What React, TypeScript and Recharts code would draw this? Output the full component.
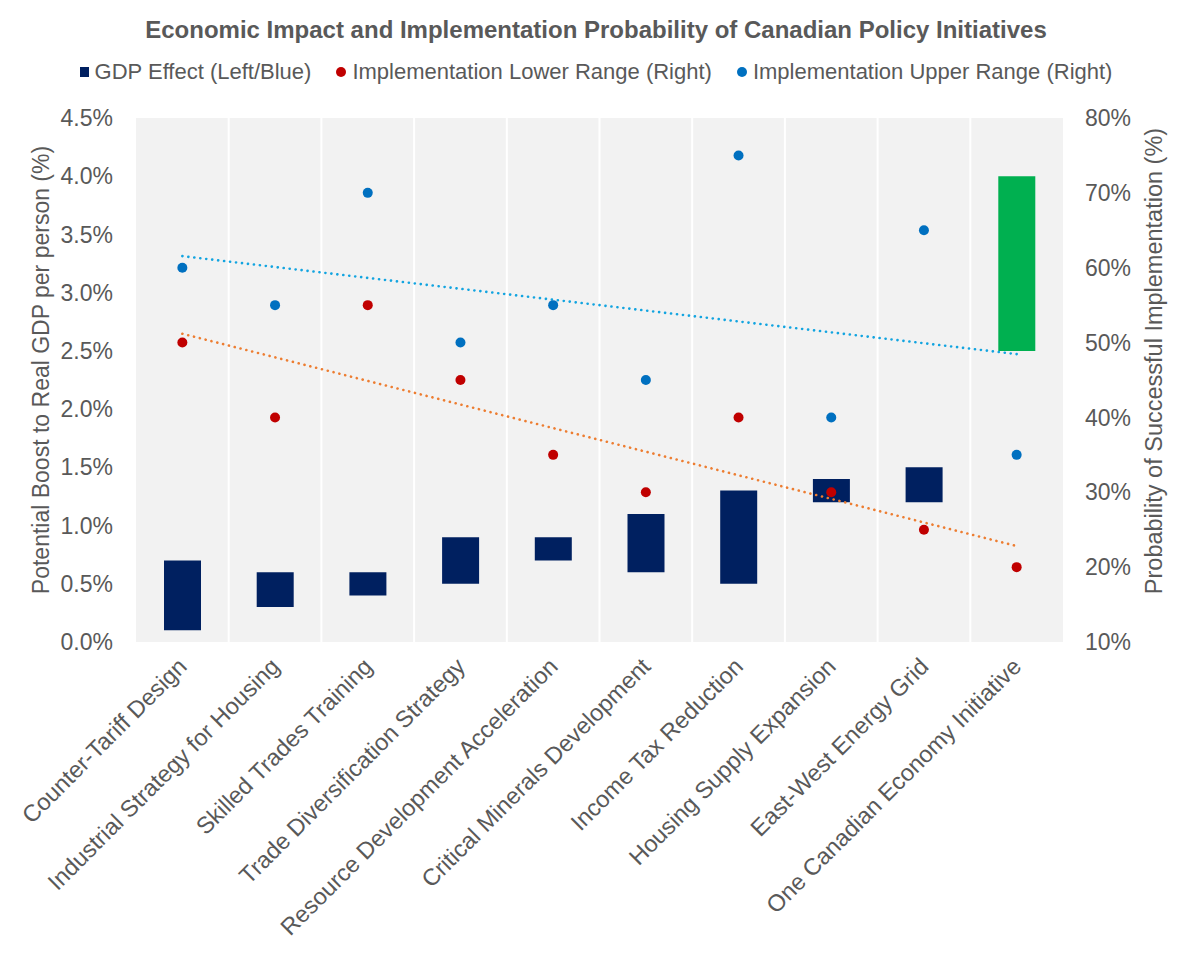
import React from 'react';
import {
  Bar,
  CartesianGrid,
  Cell,
  ComposedChart,
  Line,
  XAxis,
  YAxis,
} from 'recharts';

const categories = [
  'Counter-Tariff Design',
  'Industrial Strategy for Housing',
  'Skilled Trades Training',
  'Trade Diversification Strategy',
  'Resource Development Acceleration',
  'Critical Minerals Development',
  'Income Tax Reduction',
  'Housing Supply Expansion',
  'East-West Energy Grid',
  'One Canadian Economy Initiative',
];

// GDP effect range, left axis (% boost)
const gdpLow = [0.1, 0.3, 0.4, 0.5, 0.7, 0.6, 0.5, 1.2, 1.2, 2.5];
const gdpHigh = [0.7, 0.6, 0.6, 0.9, 0.9, 1.1, 1.3, 1.4, 1.5, 4.0];

// probability of implementation, right axis (%)
const implLower = [50, 40, 55, 45, 35, 30, 40, 30, 25, 20];
const implUpper = [60, 55, 70, 50, 55, 45, 75, 40, 65, 35];

const leftTicks = [0, 0.5, 1, 1.5, 2, 2.5, 3, 3.5, 4, 4.5];
const rightTicks = [10, 20, 30, 40, 50, 60, 70, 80];

const legendItems = [
  { label: 'GDP Effect (Left/Blue)', color: '#002060', shape: 'square' },
  { label: 'Implementation Lower Range (Right)', color: '#c00000', shape: 'circle' },
  { label: 'Implementation Upper Range (Right)', color: '#0070c0', shape: 'circle' },
];

const FONT = '"Liberation Sans", Arial, sans-serif';
const GREY = '#595959';

// least-squares trendline like Excel's linear trendline
const linearTrend = (ys: number[]) => {
  const n = ys.length;
  const mx = (n + 1) / 2;
  const my = ys.reduce((a, b) => a + b, 0) / n;
  let sxy = 0;
  let sxx = 0;
  ys.forEach((y, i) => {
    sxy += (i + 1 - mx) * (y - my);
    sxx += (i + 1 - mx) * (i + 1 - mx);
  });
  const slope = sxy / sxx;
  return ys.map((_, i) => my + slope * (i + 1 - mx));
};

const lowerTrend = linearTrend(implLower);
const upperTrend = linearTrend(implUpper);

const data = categories.map((name, i) => ({
  name,
  gdp: [gdpLow[i], gdpHigh[i]],
  lower: implLower[i],
  upper: implUpper[i],
  lowerTrend: lowerTrend[i],
  upperTrend: upperTrend[i],
}));

const XTick = (props: any) => {
  const { x, y, payload } = props;
  const ax = x + 6;
  const ay = y + 18;
  return (
    <text
      x={ax}
      y={ay}
      textAnchor="end"
      transform={`rotate(-45 ${ax} ${ay})`}
      fill={GREY}
      fontSize={23.5}
      fontFamily={FONT}
    >
      {payload.value}
    </text>
  );
};

const yTitle = (text: string, cx: number, cy: number, size: number) => () => (
  <text
    x={cx}
    y={cy}
    transform={`rotate(-90 ${cx} ${cy})`}
    textAnchor="middle"
    dominantBaseline="central"
    fill={GREY}
    fontSize={size}
    fontFamily={FONT}
  >
    {text}
  </text>
);

export default function App() {
  return (
    <div style={{ position: 'absolute', left: 0, top: 0, width: 1192, height: 964, background: '#fff' }}>
      <div
        style={{
          position: 'absolute',
          top: 16,
          left: 0,
          width: 1192,
          textAlign: 'center',
          fontFamily: FONT,
          fontWeight: 'bold',
          fontSize: 24,
          color: GREY,
        }}
      >
        Economic Impact and Implementation Probability of Canadian Policy Initiatives
      </div>
      <div
        style={{
          position: 'absolute',
          top: 59,
          left: 0,
          width: 1192,
          display: 'flex',
          justifyContent: 'center',
          alignItems: 'center',
          fontFamily: FONT,
          fontSize: 22,
          color: GREY,
          gap: 25,
        }}
      >
        {legendItems.map((item) => (
          <div key={item.label} style={{ display: 'flex', alignItems: 'center' }}>
            <span
              style={{
                display: 'inline-block',
                width: item.shape === 'square' ? 9 : 10,
                height: 10,
                borderRadius: item.shape === 'circle' ? '50%' : 0,
                background: item.color,
                marginRight: 6,
              }}
            />
            <span>{item.label}</span>
          </div>
        ))}
      </div>
      <ComposedChart
        width={1192}
        height={964}
        data={data}
        margin={{ top: 118, right: 0, bottom: 0, left: 0 }}
      >
        <CartesianGrid
          horizontal={false}
          fill="#f2f2f2"
          stroke="#ffffff"
          strokeWidth={2}
          verticalCoordinatesGenerator={({ offset }: any) =>
            categories.slice(1).map((_, i) => offset.left + ((i + 1) * offset.width) / categories.length)
          }
        />
        <XAxis
          dataKey="name"
          interval={0}
          height={322}
          tick={<XTick />}
          tickLine={false}
          axisLine={false}
        />
        <YAxis
          yAxisId="left"
          width={136}
          domain={[0, 4.5]}
          ticks={leftTicks}
          tickFormatter={(v: number) => `${v.toFixed(1)}%`}
          tick={{ fill: GREY, fontSize: 23, fontFamily: FONT }}
          tickLine={false}
          axisLine={false}
          tickMargin={17}
          label={{ content: yTitle('Potential Boost to Real GDP per person (%)', 41, 370, 23) }}
        />
        <YAxis
          yAxisId="right"
          orientation="right"
          width={129}
          domain={[10, 80]}
          ticks={rightTicks}
          tickFormatter={(v: number) => `${v}%`}
          tick={{ fill: GREY, fontSize: 23, fontFamily: FONT }}
          tickLine={false}
          axisLine={false}
          tickMargin={16}
          label={{ content: yTitle('Probability of Successful Implementation (%)', 1154, 361, 23.5) }}
        />
        <Bar yAxisId="left" dataKey="gdp" barSize={37} isAnimationActive={false}>
          {data.map((d, i) => (
            <Cell key={d.name} fill={i === data.length - 1 ? '#00b050' : '#002060'} />
          ))}
        </Bar>
        <Line
          yAxisId="right"
          dataKey="upperTrend"
          stroke="#12a4e0"
          strokeWidth={2.6}
          strokeDasharray="0.1 5.9"
          strokeLinecap="round"
          dot={false}
          activeDot={false}
          isAnimationActive={false}
        />
        <Line
          yAxisId="right"
          dataKey="lowerTrend"
          stroke="#ed7d31"
          strokeWidth={2.6}
          strokeDasharray="0.1 5.9"
          strokeLinecap="round"
          dot={false}
          activeDot={false}
          isAnimationActive={false}
        />
        <Line
          yAxisId="right"
          dataKey="lower"
          stroke="none"
          dot={{ r: 5, fill: '#c00000', stroke: 'none' }}
          activeDot={false}
          isAnimationActive={false}
        />
        <Line
          yAxisId="right"
          dataKey="upper"
          stroke="none"
          dot={{ r: 5, fill: '#0070c0', stroke: 'none' }}
          activeDot={false}
          isAnimationActive={false}
        />
      </ComposedChart>
    </div>
  );
}
